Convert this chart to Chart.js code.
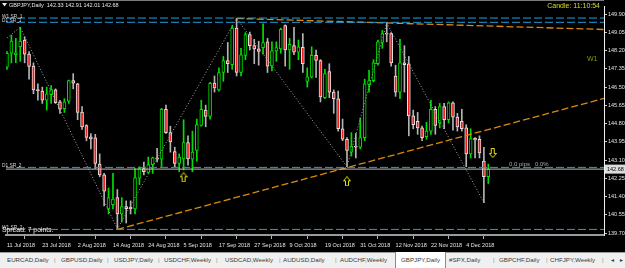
<!DOCTYPE html>
<html>
<head>
<meta charset="utf-8">
<script src="https://cdn.jsdelivr.net/npm/chart.js@4.4.0/dist/chart.umd.min.js"></script>
<style>
  html, body { margin: 0; padding: 0; background: #000; }
  body { width: 625px; height: 268px; overflow: hidden; position: relative; font-family: 'Liberation Sans', Arial, sans-serif; }
  #chart { display: block; }
  #tabs { position: absolute; left: 0; top: 252px; width: 625px; height: 16px; background: #f0f0f0; border-top: 1px solid #9a9a9a; box-sizing: border-box; }
  #tabs span { position: absolute; top: 3px; font-size: 6.2px; line-height: 8px; color: #3a3a3a; white-space: nowrap; }
  #tabs .sep { color: #909090; }
  #tabs .active { top: -1px; height: 15px; background: #fff; border-left: 1px solid #8a8a8a; border-right: 1px solid #8a8a8a; }
</style>
</head>
<body>
<canvas id="chart" width="625" height="252"></canvas>
<div id="tabs"></div>
<script>
// date ticks (every 8th daily bar)
const tickIndex = [0, 8, 16, 24, 32, 40, 48, 56, 64, 72, 80, 88, 96, 104];
const tickLabels = ['11 Jul 2018', '23 Jul 2018', '2 Aug 2018', '14 Aug 2018', '24 Aug 2018', '5 Sep 2018',
  '17 Sep 2018', '27 Sep 2018', '9 Oct 2018', '19 Oct 2018', '31 Oct 2018', '12 Nov 2018', '22 Nov 2018', '4 Dec 2018'];
const priceTicks = [139.70, 140.55, 141.40, 142.25, 143.10, 143.95, 144.80, 145.65, 146.50, 147.35, 148.20, 149.05, 149.90];

// GBPJPY daily OHLC
const opens = [147.43, 148.08, 148.01, 148.38, 148.69, 148.04, 147.48, 146.39, 146.31, 145.89,
  146.15, 146.37, 145.81, 145.50, 145.84, 146.80, 146.65, 145.34, 144.71, 144.18,
  144.14, 142.91, 142.41, 140.82, 141.02, 141.35, 140.59, 140.93, 140.90, 140.82,
  142.26, 142.71, 142.53, 142.89, 143.20, 143.14, 145.47, 144.38, 143.50, 142.94,
  143.16, 143.92, 143.14, 143.55, 144.71, 145.43, 145.13, 146.69, 146.37, 147.18,
  147.74, 147.55, 149.25, 147.18, 147.98, 148.95, 148.43, 148.28, 148.34, 148.61,
  147.48, 148.19, 148.28, 149.37, 148.23, 148.43, 148.13, 148.36, 146.77, 146.98,
  147.98, 147.74, 146.01, 147.22, 146.27, 145.96, 144.56, 144.07, 143.47, 143.74,
  143.70, 144.15, 146.61, 146.80, 147.59, 148.58, 148.99, 148.99, 147.02, 146.27,
  147.63, 147.59, 145.16, 144.91, 144.60, 144.19, 144.45, 145.47, 144.83, 145.59,
  144.98, 145.77, 145.10, 144.91, 144.60, 143.39, 144.12, 144.07, 143.05, 142.33];
const highs = [148.16, 148.92, 148.77, 149.29, 148.84, 148.16, 147.63, 146.65, 146.50, 146.50,
  146.57, 146.42, 145.89, 145.96, 146.83, 147.13, 146.68, 145.59, 144.75, 144.33,
  144.30, 143.39, 142.48, 141.80, 142.48, 141.73, 141.35, 141.20, 141.20, 142.71,
  142.79, 143.01, 143.24, 143.24, 143.65, 145.51, 145.66, 144.68, 143.70, 143.39,
  144.98, 144.23, 144.45, 145.01, 145.89, 145.66, 146.72, 147.02, 147.40, 147.93,
  148.58, 149.37, 149.70, 148.31, 149.04, 149.07, 148.73, 148.64, 149.45, 148.77,
  148.61, 148.61, 149.25, 149.40, 148.77, 149.29, 148.69, 148.99, 147.40, 148.38,
  148.23, 147.78, 147.33, 147.59, 146.37, 146.31, 145.01, 144.15, 144.38, 144.34,
  145.06, 146.87, 147.28, 147.78, 148.69, 149.14, 149.49, 149.04, 147.52, 148.73,
  148.43, 147.93, 145.43, 145.32, 144.68, 144.86, 145.89, 145.59, 145.74, 145.74,
  145.81, 145.81, 145.28, 145.47, 144.75, 144.56, 144.15, 144.23, 143.70, 142.91];
const lows = [147.33, 147.63, 147.64, 147.70, 147.63, 146.87, 146.19, 145.89, 145.74, 145.43,
  145.74, 145.74, 145.28, 145.32, 145.74, 146.42, 144.98, 144.53, 144.00, 143.62,
  142.71, 142.33, 140.97, 140.59, 140.82, 139.90, 140.21, 140.17, 140.59, 140.59,
  141.96, 142.41, 142.48, 142.48, 143.01, 142.79, 144.34, 143.47, 142.79, 142.56,
  142.64, 142.86, 142.56, 143.05, 144.68, 144.65, 145.01, 146.27, 146.31, 146.77,
  147.18, 147.33, 147.02, 147.02, 147.78, 148.23, 147.59, 147.52, 148.04, 147.18,
  147.25, 147.70, 148.08, 147.48, 147.33, 148.01, 147.78, 147.18, 146.50, 146.92,
  146.95, 145.81, 145.96, 146.01, 145.28, 144.45, 144.00, 142.79, 143.29, 143.20,
  143.62, 144.00, 146.27, 146.74, 147.52, 148.31, 148.61, 147.48, 146.07, 145.96,
  146.27, 144.23, 144.56, 144.30, 144.00, 144.07, 144.30, 144.30, 144.60, 144.56,
  144.83, 144.50, 144.45, 144.45, 142.79, 143.20, 143.20, 143.20, 141.12, 142.01];
const closes = [148.08, 148.64, 148.10, 148.64, 148.04, 147.46, 146.37, 146.34, 145.89, 146.19,
  146.39, 145.77, 145.47, 145.81, 146.80, 146.69, 145.32, 144.65, 144.16, 144.09,
  142.94, 142.41, 141.65, 141.35, 141.28, 140.59, 140.94, 140.84, 140.84, 142.29,
  142.71, 142.56, 142.89, 143.20, 143.14, 145.47, 144.38, 143.95, 142.94, 143.24,
  143.92, 143.16, 143.47, 144.75, 145.47, 145.13, 146.68, 146.46, 147.18, 147.74,
  147.59, 149.25, 147.18, 148.01, 148.95, 148.43, 148.28, 148.16, 148.58, 147.48,
  148.19, 148.34, 149.19, 148.23, 148.49, 148.13, 148.38, 147.59, 146.98, 147.98,
  147.74, 146.04, 147.13, 146.27, 145.96, 144.56, 144.07, 143.55, 143.74, 143.70,
  144.15, 146.65, 146.80, 147.63, 148.61, 148.99, 148.97, 147.63, 146.27, 147.63,
  147.55, 145.16, 144.75, 144.60, 144.15, 144.45, 145.47, 144.71, 145.59, 144.98,
  145.77, 145.10, 144.65, 144.56, 143.39, 144.10, 144.04, 143.44, 142.33, 142.68];

// horizontal support/resistance levels
const srNames = ['W1 SR_1', 'D1 SR_1', 'D1 SR_2', 'W1 SR_2'];
const srLevels = [149.72, 149.52, 142.76, 139.87];

// trendlines and zigzag (bar index, price)
const trendUpIdx = [25, 136];
const trendUpPrice = [139.87, 146.02];
const trendDownIdx = [52, 136];
const trendDownPrice = [149.70, 149.18];
const zigzagIdx = [-1, 3, 25, 52, 77, 86, 108];
const zigzagPrice = [148.62, 149.29, 139.90, 149.70, 142.79, 149.49, 141.12];

// arrow markers
const upArrowIdx = [40, 77];
const upArrowPrice = [142.30, 142.11];
const downArrowIdx = [110];
const downArrowPrice = [143.43];

const tabNames = ['EURCAD,Daily', 'GBPUSD,Daily', 'USDJPY,Daily', 'USDCHF,Weekly', 'USDCAD,Weekly', 'AUDUSD,Daily',
  'AUDCHF,Weekly', 'GBPJPY,Daily', '#SPX,Daily', 'GBPCHF,Daily', 'CHFJPY,Weekly'];
const activeTab = 'GBPJPY,Daily';

const xMin = -0.22, xMax = 135.2;
const last = closes.length - 1;

// tab strip
const tabLeft = [7, 61, 114, 164, 225, 283, 340, 400, 449, 499, 550];
const sepLeft = [54, 107, 158, 216, 279, 335, 493, 546, 602];
const tabsEl = document.getElementById('tabs');
tabNames.forEach((name, i) => {
  const s = document.createElement('span');
  s.textContent = name;
  if (name === activeTab) {
    s.className = 'active';
    s.style.left = (tabLeft[i] - 5) + 'px';
    s.style.padding = '4px 5px 0 5px';
    s.style.lineHeight = '8px';
  } else {
    s.style.left = tabLeft[i] + 'px';
  }
  tabsEl.appendChild(s);
});
sepLeft.forEach(l => {
  const s = document.createElement('span');
  s.className = 'sep';
  s.textContent = '|';
  s.style.left = l + 'px';
  tabsEl.appendChild(s);
});
['\u25C4', '\u25BA'].forEach((t, i) => {
  const s = document.createElement('span');
  s.textContent = t;
  s.style.left = (610 + i * 9) + 'px';
  s.style.fontSize = '5px';
  tabsEl.appendChild(s);
});

function arrowImage(up) {
  const c = document.createElement('canvas');
  c.width = 8; c.height = 10;
  const g = c.getContext('2d');
  g.strokeStyle = '#e6e614';
  g.lineWidth = 1;
  const pts = [[4, 0.5], [7.5, 4.5], [5.5, 4.5], [5.5, 9.5], [2.5, 9.5], [2.5, 4.5], [0.5, 4.5]];
  g.beginPath();
  pts.forEach((p, i) => {
    const py = up ? p[1] : 10 - p[1];
    if (i === 0) g.moveTo(p[0], py); else g.lineTo(p[0], py);
  });
  g.closePath();
  g.stroke();
  return c;
}

const bull = closes.map((c, i) => c >= opens[i]);
const green = '#00e000';

function lineSet(points, color, dash, width) {
  return {
    type: 'line', data: points, borderColor: color, borderWidth: width || 1,
    borderDash: dash, pointRadius: 0, fill: false, order: 0, tension: 0
  };
}

const datasets = [
  {
    label: 'wick', data: highs.map((h, i) => ({ x: i, y: [lows[i], h] })),
    backgroundColor: bull.map(b => b ? green : '#b4b4b4'),
    barThickness: 1, grouped: false, order: 3
  },
  {
    label: 'body', data: opens.map((o, i) => ({ x: i, y: [o, closes[i]] })),
    backgroundColor: bull.map(b => b ? '#000000' : '#ee1c1c'),
    borderColor: bull.map(b => b ? green : '#e8e0e0'),
    borderWidth: 1, borderSkipped: false, minBarLength: 1,
    barThickness: 3, grouped: false, order: 2
  },
  ...srLevels.map(v => lineSet([{ x: xMin, y: v }, { x: xMax, y: v }], '#1c9fe0', [8, 3])),
  lineSet([{ x: xMin, y: closes[last] }, { x: xMax, y: closes[last] }], '#bdbdbd', []),
  lineSet(trendUpIdx.map((x, i) => ({ x, y: trendUpPrice[i] })), '#d98a0b', [7, 3], 1.3),
  lineSet(trendDownIdx.map((x, i) => ({ x, y: trendDownPrice[i] })), '#d98a0b', [7, 3], 1.3),
  lineSet(zigzagIdx.map((x, i) => ({ x, y: zigzagPrice[i] })), '#a8a8a8', [1, 2]),
  {
    type: 'scatter', data: upArrowIdx.map((x, i) => ({ x, y: upArrowPrice[i] })),
    pointStyle: arrowImage(true), pointRadius: 5, order: 0
  },
  {
    type: 'scatter', data: downArrowIdx.map((x, i) => ({ x, y: downArrowPrice[i] })),
    pointStyle: arrowImage(false), pointRadius: 5, order: 0
  }
];

const overlay = {
  id: 'overlay',
  afterDraw(chart) {
    const ctx = chart.ctx;
    const ys = chart.scales.y;
    const area = chart.chartArea;
    ctx.save();
    ctx.fillStyle = '#7a7a7a';
    ctx.fillRect(0, 0, area.right, 1);

    // title
    ctx.fillStyle = '#e8e8e8';
    ctx.beginPath(); ctx.moveTo(2, 3); ctx.lineTo(7, 3); ctx.lineTo(4.5, 6.5); ctx.closePath(); ctx.fill();
    ctx.font = '5.5px "Liberation Sans"';
    ctx.textAlign = 'left'; ctx.textBaseline = 'middle';
    const title = 'GBPJPY,Daily  ' + [opens[last], highs[last], lows[last], closes[last]].map(v => v.toFixed(2)).join(' ');
    ctx.fillText(title, 9, 5);

    // level labels
    ctx.font = '4.8px "Liberation Sans"';
    ctx.textBaseline = 'alphabetic';
    ctx.fillStyle = '#d8d8d8';
    srNames.forEach((n, i) => ctx.fillText(n, 2, ys.getPixelForValue(srLevels[i]) - 0.5));

    ctx.fillStyle = '#a8a8a8';
    ctx.font = '6px "Liberation Sans"';
    ctx.fillText('0.0 pips   0.0%', 509, ys.getPixelForValue(srLevels[2]) - 1);

    ctx.fillStyle = '#f0f0f0';
    ctx.font = '6.8px "Liberation Sans"';
    ctx.textBaseline = 'middle';
    ctx.fillText('Spread: 7 points.', 2, 230.5);

    ctx.fillStyle = '#7c9a18';
    ctx.font = '7px "Liberation Sans"';
    ctx.fillText('W1', 587, 59.5);

    ctx.fillStyle = '#dcdc1e';
    ctx.textAlign = 'right';
    ctx.fillText('Candle: 11:10:54', 600, 6);

    // current price box
    const py = ys.getPixelForValue(closes[last]);
    ctx.fillStyle = '#dcdcdc';
    ctx.fillRect(area.right + 1, py - 4.5, 21, 9);
    ctx.fillStyle = '#000';
    ctx.textAlign = 'left';
    ctx.font = '5.5px "Liberation Sans"';
    ctx.fillText(closes[last].toFixed(2), area.right + 3, py + 0.5);
    ctx.restore();
  }
};

new Chart(document.getElementById('chart'), {
  type: 'bar',
  data: { datasets },
  options: {
    responsive: false,
    animation: false,
    events: [],
    layout: { padding: 0 },
    plugins: { legend: { display: false }, tooltip: { enabled: false } },
    scales: {
      x: {
        type: 'linear', min: xMin, max: xMax, offset: false,
        afterBuildTicks: s => { s.ticks = tickIndex.map(v => ({ value: v })); },
        afterFit: s => { s.height = 17; s.paddingLeft = 0; s.paddingRight = 0; },
        ticks: {
          autoSkip: false, maxRotation: 0, align: 'start', padding: 3,
          color: '#e4e4e4', font: { family: 'Liberation Sans', size: 5.5 },
          callback: v => tickLabels[tickIndex.indexOf(v)]
        },
        grid: { drawOnChartArea: false, drawTicks: true, tickLength: 4, color: '#b0b0b0' },
        border: { display: true, color: '#9a9a9a', width: 2 }
      },
      y: {
        type: 'linear', position: 'right', min: 139.61, max: 150.28,
        afterBuildTicks: s => { s.ticks = priceTicks.map(v => ({ value: v })); },
        afterFit: s => { s.width = 21; s.paddingTop = 0; s.paddingBottom = 0; },
        ticks: {
          padding: 1, color: '#e4e4e4', font: { family: 'Liberation Sans', size: 5.5 },
          callback: v => v.toFixed(2)
        },
        grid: { drawOnChartArea: false, drawTicks: true, tickLength: 3, color: '#c8c8c8' },
        border: { display: true, color: '#f0f0f0', width: 1 }
      }
    }
  },
  plugins: [overlay]
});
</script>
</body>
</html>
